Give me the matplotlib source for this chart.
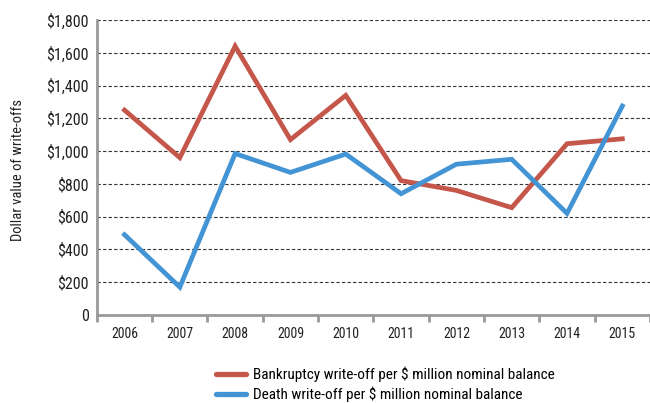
import matplotlib
matplotlib.use('Agg')
import matplotlib.pyplot as plt
from matplotlib.ticker import FuncFormatter, FixedLocator
from matplotlib import font_manager

years = ['2006', '2007', '2008', '2009', '2010', '2011', '2012', '2013', '2014', '2015']
bankruptcy = [1250, 960, 1640, 1070, 1340, 820, 760, 655, 1045, 1075]
death = [490, 170, 985, 870, 982, 740, 920, 950, 620, 1275]

installed = {f.name for f in font_manager.fontManager.ttflist}
preferred = ['Liberation Sans Narrow', 'Roboto Condensed', 'Open Sans Condensed',
             'PT Sans Narrow', 'Archivo Narrow', 'Roboto']
family = next(f for f in preferred + ['DejaVu Sans'] if f in installed)
plt.rcParams['font.family'] = [family, 'DejaVu Sans']

red = '#C4564A'
blue = '#4394D4'

fig = plt.figure(figsize=(6.5, 4.03), dpi=100)
ax = fig.add_axes([0.149, 0.2184, 0.851, 0.732])

x = list(range(len(years)))
ax.plot(x, bankruptcy, color=red, lw=3.4, solid_joinstyle='miter',
        label='Bankruptcy write-off per $ million nominal balance', zorder=3)
ax.plot(x, death, color=blue, lw=3.4, solid_joinstyle='miter',
        label='Death write-off per $ million nominal balance', zorder=3)

ax.set_xlim(-0.5, len(years) - 0.5)
ax.set_ylim(0, 1800)
ax.set_yticks(range(0, 1801, 200))
ax.yaxis.set_major_formatter(FuncFormatter(lambda v, p: '0' if v == 0 else f'${v:,.0f}'))
ax.yaxis.grid(True, ls=(0, (3, 2)), color='#333333', lw=0.8)
ax.set_axisbelow(True)

# year labels centred, tick marks on category boundaries
ax.set_xticks(x)
ax.set_xticklabels(years)
ax.xaxis.set_minor_locator(FixedLocator([i - 0.5 for i in range(len(years) + 1)]))
ax.tick_params(axis='x', which='major', length=0, pad=9, labelsize=10, labelcolor='#222222')
ax.tick_params(axis='x', which='minor', length=5, width=2, color='#999999', direction='out')
ax.tick_params(axis='y', length=0, pad=6, labelsize=11.5, labelcolor='#222222')

for s in ['top', 'right']:
    ax.spines[s].set_visible(False)
for s in ['left', 'bottom']:
    ax.spines[s].set_color('#999999')
    ax.spines[s].set_linewidth(2)

fig.text(0.028, 0.578, 'Dollar value of write-offs', rotation=90, ha='center', va='center',
         fontsize=10.5, color='#222222')

leg = fig.legend(loc='upper left', bbox_to_anchor=(0.332, 0.09), frameon=False, fontsize=11,
                 handlelength=2.0, handletextpad=0.45, labelspacing=0.28, borderaxespad=0,
                 borderpad=0)
for h in leg.legend_handles:
    h.set_linewidth(3.8)
    h.set_solid_capstyle('round')

fig.savefig('out.png', dpi=100)
